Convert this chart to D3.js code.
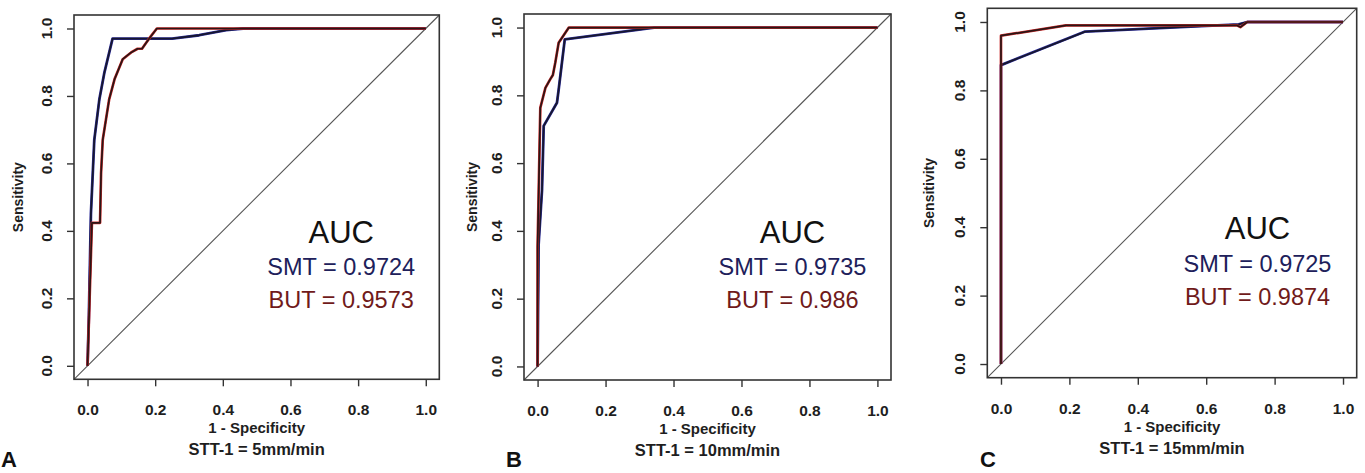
<!DOCTYPE html>
<html>
<head>
<meta charset="utf-8">
<script src="https://cdn.jsdelivr.net/npm/d3@7"></script>
<style>
html,body{margin:0;padding:0;background:#fff;}
svg{display:block;}
text{font-family:"Liberation Sans",Arial,Helvetica,sans-serif;}
</style>
</head>
<body>
<svg id="chart" width="1365" height="473"></svg>
<script>
// ---- data (x = 1 - Specificity, y = Sensitivity) ----
const tickValues = [0, 0.2, 0.4, 0.6, 0.8, 1.0];
const panelLetters = ["A", "B", "C"];
const subtitles = ["STT-1 = 5mm/min", "STT-1 = 10mm/min", "STT-1 = 15mm/min"];
const aucSMT = ["0.9724", "0.9735", "0.9725"];
const aucBUT = ["0.9573", "0.986", "0.9874"];

const rocSMT_A = [[0,0],[0.004,0.15],[0.01,0.45],[0.02,0.67],[0.035,0.79],[0.05,0.87],[0.074,0.97],[0.25,0.97],[0.33,0.98],[0.41,0.995],[0.46,1.0],[1,1]];
const rocBUT_A = [[0,0],[0.013,0.424],[0.037,0.424],[0.04,0.57],[0.045,0.67],[0.064,0.79],[0.08,0.85],[0.104,0.909],[0.129,0.929],[0.148,0.94],[0.161,0.94],[0.175,0.96],[0.188,0.978],[0.205,1.0],[1,1]];
const rocSMT_B = [[0,0],[0.003,0.36],[0.013,0.52],[0.018,0.71],[0.057,0.778],[0.062,0.817],[0.08,0.965],[0.343,1.0],[1,1]];
const rocBUT_B = [[0,0],[0,0.355],[0.008,0.763],[0.023,0.822],[0.037,0.847],[0.045,0.86],[0.052,0.896],[0.062,0.955],[0.092,1.0],[1,1]];
const rocSMT_C = [[0,0],[0,0.874],[0.246,0.972],[0.695,0.993],[0.72,1.0],[1,1]];
const rocBUT_C = [[0,0],[0,0.96],[0.19,0.99],[0.69,0.99],[0.70,0.985],[0.72,1.0],[1,1]];

const smtSeries = [rocSMT_A, rocSMT_B, rocSMT_C];
const butSeries = [rocBUT_A, rocBUT_B, rocBUT_C];

// ---- layout ----
const boxes = [
  {x0:74,   x1:439.3,  y0:15,  y1:379.3, ylab:22.3, sens:51.3, letterX:1,   },
  {x0:524,  x1:891,    y0:14,  y1:380,   ylab:22.3, sens:47.3, letterX:506, },
  {x0:987.3,x1:1356.7, y0:8.3, y1:377.7, ylab:22.3, sens:53,   letterX:980, }
];

const svg = d3.select("#chart");
svg.append("rect").attr("width",1365).attr("height",473).attr("fill","#fff");

const SMT_DARK = "#17172e", SMT_EDGE = "#2d2d9a";
const BUT_DARK = "#2a1616", BUT_EDGE = "#cc2a2a";
const LABEL_COLOR = "#1e1e1e";

boxes.forEach((b, i) => {
  const g = svg.append("g");
  const x = d3.scaleLinear().domain([-0.04, 1.04]).range([b.x0, b.x1]);
  const y = d3.scaleLinear().domain([-0.04, 1.04]).range([b.y1, b.y0]);
  const clipId = "clip" + i;
  g.append("clipPath").attr("id", clipId).append("rect")
    .attr("x", b.x0).attr("y", b.y0).attr("width", b.x1 - b.x0).attr("height", b.y1 - b.y0);

  // diagonal reference line
  g.append("line")
    .attr("x1", x(-0.04)).attr("y1", y(-0.04)).attr("x2", x(1.04)).attr("y2", y(1.04))
    .attr("stroke", "#555").attr("stroke-width", 1.1);

  const line = d3.line().x(d => x(d[0])).y(d => y(d[1]));
  const cg = g.append("g").attr("clip-path", `url(#${clipId})`);
  // SMT curve
  cg.append("path").datum(smtSeries[i]).attr("d", line).attr("fill","none")
    .attr("stroke", SMT_EDGE).attr("stroke-width", 2.8).attr("stroke-linejoin","round");
  cg.append("path").datum(smtSeries[i]).attr("d", line).attr("fill","none")
    .attr("stroke", SMT_DARK).attr("stroke-width", 1.8).attr("stroke-linejoin","round");
  // BUT curve
  cg.append("path").datum(butSeries[i]).attr("d", line).attr("fill","none")
    .attr("stroke", BUT_EDGE).attr("stroke-width", 2.7).attr("stroke-linejoin","round");
  cg.append("path").datum(butSeries[i]).attr("d", line).attr("fill","none")
    .attr("stroke", BUT_DARK).attr("stroke-width", 1.7).attr("stroke-linejoin","round");

  // box
  g.append("rect").attr("x", b.x0).attr("y", b.y0)
    .attr("width", b.x1 - b.x0).attr("height", b.y1 - b.y0)
    .attr("fill", "none").attr("stroke", "#333").attr("stroke-width", 1.6);

  // x axis
  const xAxis = d3.axisBottom(x).tickValues(tickValues).tickSize(7).tickPadding(18)
    .tickFormat(d3.format(".1f"));
  const xg = g.append("g").attr("transform", `translate(0,${b.y1})`).call(xAxis);
  xg.select(".domain").remove();
  xg.selectAll(".tick line").attr("stroke", "#333").attr("stroke-width", 1.4);
  xg.selectAll(".tick text").attr("font-size", 15.5).attr("font-weight", "bold")
    .attr("fill", LABEL_COLOR).attr("font-family", '"Liberation Sans",Arial,sans-serif');

  // y axis (rotated labels like R)
  const yAxis = d3.axisLeft(y).tickValues(tickValues).tickSize(7).tickFormat("");
  const yg = g.append("g").attr("transform", `translate(${b.x0},0)`).call(yAxis);
  yg.select(".domain").remove();
  yg.selectAll(".tick line").attr("stroke", "#333").attr("stroke-width", 1.4);
  g.selectAll(".ylab").data(tickValues).enter().append("text")
    .attr("transform", d => `translate(${b.x0 - b.ylab},${y(d)}) rotate(-90)`)
    .attr("text-anchor", "middle").attr("font-size", 15.5).attr("font-weight", "bold")
    .attr("fill", LABEL_COLOR).text(d3.format(".1f"));

  const cx = (b.x0 + b.x1) / 2;
  g.append("text").attr("x", cx).attr("y", b.y1 + 54).attr("text-anchor","middle")
    .attr("font-size", 15).attr("font-weight","bold").attr("fill",LABEL_COLOR).text("1 - Specificity");
  g.append("text").attr("x", cx).attr("y", b.y1 + 76).attr("text-anchor","middle")
    .attr("font-size", 16.5).attr("font-weight","bold").attr("fill",LABEL_COLOR).text(subtitles[i]);
  g.append("text")
    .attr("transform", `translate(${b.x0 - b.sens},${(b.y0 + b.y1) / 2}) rotate(-90)`)
    .attr("text-anchor","middle").attr("font-size", 14).attr("font-weight","bold")
    .attr("fill",LABEL_COLOR).text("Sensitivity");

  // AUC annotations in data coordinates
  g.append("text").attr("x", x(0.75)).attr("y", y(0.365)).attr("text-anchor","middle")
    .attr("font-size", 31).attr("fill", "#111").text("AUC");
  g.append("text").attr("x", x(0.75)).attr("y", y(0.27)).attr("text-anchor","middle")
    .attr("font-size", 23.5).attr("fill", "#20205a").text("SMT = " + aucSMT[i]);
  g.append("text").attr("x", x(0.75)).attr("y", y(0.172)).attr("text-anchor","middle")
    .attr("font-size", 23.5).attr("fill", "#701a1a").text("BUT = " + aucBUT[i]);

  // panel letter
  g.append("text").attr("x", b.letterX).attr("y", 467).attr("font-size", 22)
    .attr("font-weight","bold").attr("fill","#111").text(panelLetters[i]);
});
</script>
</body>
</html>
